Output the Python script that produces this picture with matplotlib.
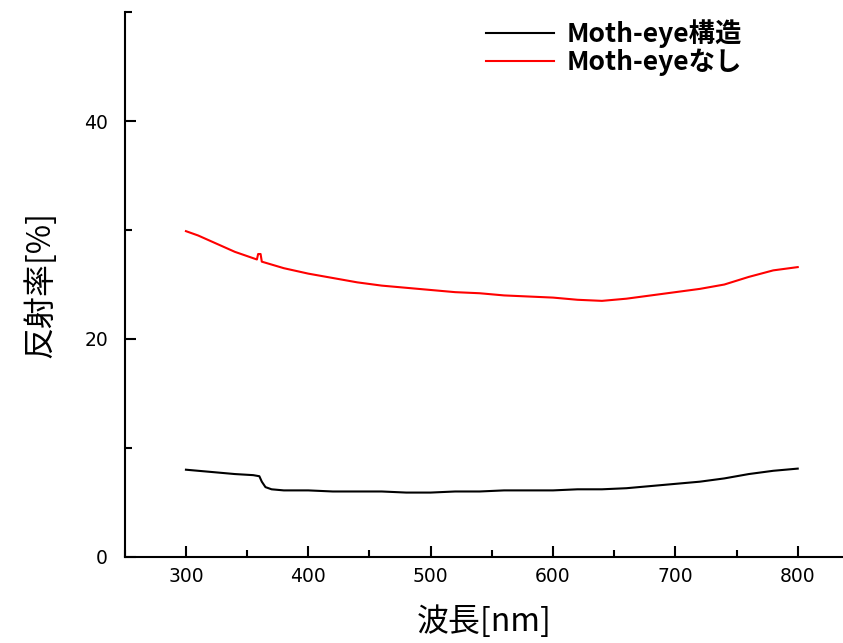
#!/usr/bin/env python3
"""
Reflectance spectrum: moth-eye structure vs. no structure
"""

import matplotlib
matplotlib.use("Agg")
import matplotlib.pyplot as plt
from matplotlib.ticker import MultipleLocator

plt.rcParams['font.family'] = ['Noto Sans CJK JP', 'DejaVu Sans']

# wavelength [nm] and reflectance [%]
wl_moth = [300, 320, 340, 355, 360, 362, 365, 370, 380, 400, 420, 440, 460,
           480, 500, 520, 540, 560, 580, 600, 620, 640, 660, 680, 700,
           720, 740, 760, 780, 800]
r_moth = [8.0, 7.8, 7.6, 7.5, 7.4, 6.9, 6.4, 6.2, 6.1, 6.1, 6.0, 6.0, 6.0,
          5.9, 5.9, 6.0, 6.0, 6.1, 6.1, 6.1, 6.2, 6.2, 6.3, 6.5, 6.7,
          6.9, 7.2, 7.6, 7.9, 8.1]

wl_none = [300, 310, 320, 340, 358, 359, 361, 362, 380, 400, 420, 440, 460,
           480, 500, 520, 540, 560, 580, 600, 620, 640, 660, 680, 700,
           720, 740, 760, 780, 800]
r_none = [29.9, 29.5, 29.0, 28.0, 27.3, 27.8, 27.8, 27.1, 26.5, 26.0, 25.6,
          25.2, 24.9, 24.7, 24.5, 24.3, 24.2, 24.0, 23.9, 23.8, 23.6, 23.5,
          23.7, 24.0, 24.3, 24.6, 25.0, 25.7, 26.3, 26.6]

labels = ['Moth-eye構造', 'Moth-eyeなし']
colors = ['black', 'red']


def main():
    fig = plt.figure(figsize=(8.43, 6.43), dpi=100)
    ax = fig.add_axes([0.148, 0.134, 0.852, 0.847])

    ax.plot(wl_moth, r_moth, color=colors[0], lw=1.5, label=labels[0])
    ax.plot(wl_none, r_none, color=colors[1], lw=1.5, label=labels[1])

    ax.set_xlim(250, 837)
    ax.set_ylim(0, 50)
    ax.xaxis.set_major_locator(MultipleLocator(100))
    ax.xaxis.set_minor_locator(MultipleLocator(50))
    ax.yaxis.set_major_locator(MultipleLocator(20))
    ax.yaxis.set_minor_locator(MultipleLocator(10))
    ax.set_xticks([300, 400, 500, 600, 700, 800])

    for s in ['top', 'right']:
        ax.spines[s].set_visible(False)
    for s in ['left', 'bottom']:
        ax.spines[s].set_linewidth(1.5)

    ax.tick_params(which='major', direction='in', length=8, width=1.5,
                   labelsize=13.5, pad=7)
    ax.tick_params(which='minor', direction='in', length=5, width=1.5)
    ax.tick_params(axis='y', which='major', pad=12)
    for t in ax.get_xticklabels() + ax.get_yticklabels():
        t.set_family(['DejaVu Sans'])

    ax.set_xlabel('波長[nm]', fontsize=23, labelpad=14)
    ax.set_ylabel('反射率[%]', fontsize=23, labelpad=20)

    leg = ax.legend(loc='upper right', bbox_to_anchor=(0.892, 1.03),
                    frameon=False, handlelength=2.6, handletextpad=0.45,
                    labelspacing=0.0, prop={'size': 19, 'weight': 'bold'})
    for line in leg.get_lines():
        line.set_linewidth(1.5)

    fig.savefig('out.png', dpi=100, facecolor='white')
    plt.close(fig)


if __name__ == "__main__":
    main()
